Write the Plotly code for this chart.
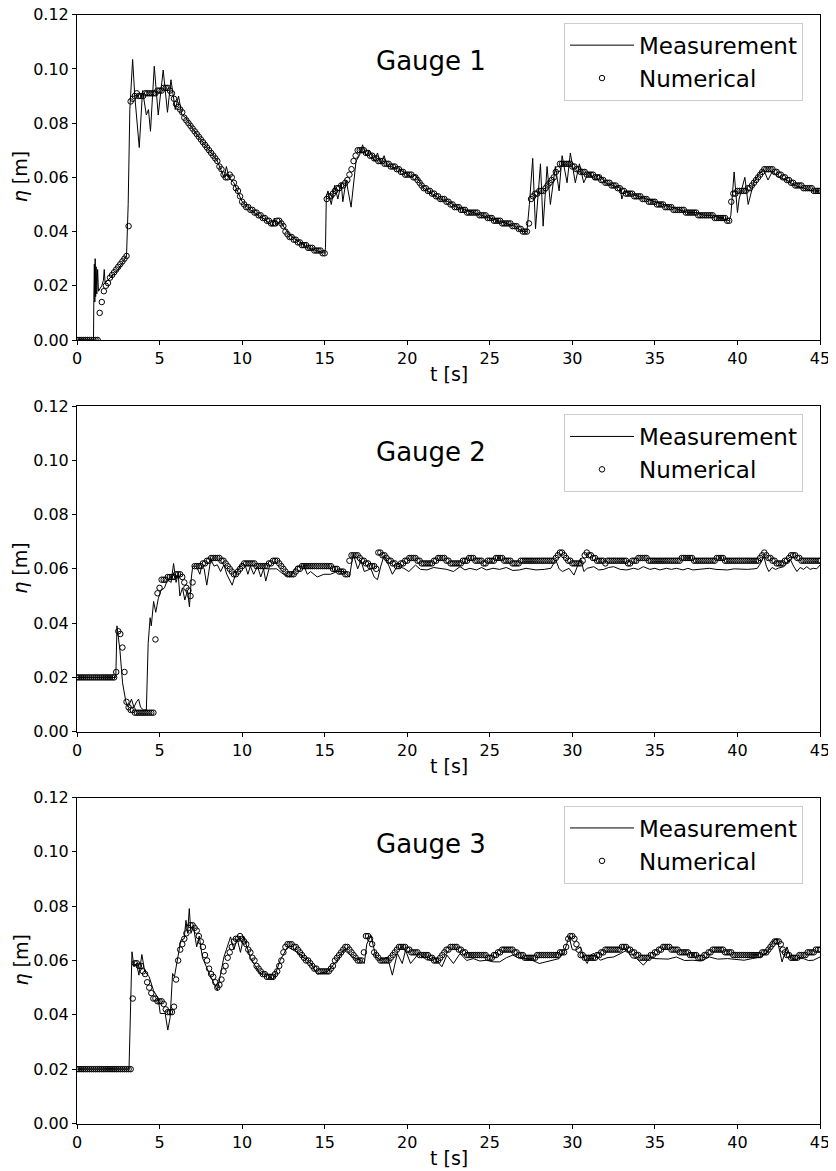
import plotly.graph_objects as go

# ---------------- data ----------------
# Numerical results, sampled every 0.125 s from 0 to 45 s (one row = 2 s)
num_step = 0.125

g1_num = [
    0.000, 0.000, 0.000, 0.000, 0.000, 0.000, 0.000, 0.000, 0.000, 0.000, 0.000, 0.010, 0.014, 0.018, 0.020, 0.021,
    0.023, 0.024, 0.025, 0.026, 0.027, 0.028, 0.029, 0.030, 0.031, 0.042, 0.088, 0.089, 0.090, 0.091, 0.090, 0.090,
    0.090, 0.091, 0.091, 0.091, 0.091, 0.091, 0.091, 0.092, 0.092, 0.092, 0.093, 0.093, 0.093, 0.092, 0.091, 0.089,
    0.087, 0.086, 0.085, 0.084, 0.082, 0.081, 0.080, 0.079, 0.078, 0.077, 0.076, 0.075, 0.074, 0.073, 0.072, 0.071,
    0.070, 0.069, 0.068, 0.067, 0.066, 0.064, 0.063, 0.061, 0.060, 0.060, 0.061, 0.060, 0.058, 0.056, 0.055, 0.053,
    0.051, 0.050, 0.049, 0.049, 0.048, 0.048, 0.047, 0.047, 0.046, 0.046, 0.045, 0.045, 0.044, 0.044, 0.043, 0.043,
    0.043, 0.044, 0.044, 0.043, 0.042, 0.040, 0.039, 0.038, 0.038, 0.037, 0.037, 0.036, 0.036, 0.035, 0.035, 0.035,
    0.034, 0.034, 0.034, 0.033, 0.033, 0.033, 0.033, 0.032, 0.032, 0.052, 0.053, 0.053, 0.054, 0.055, 0.056, 0.056,
    0.057, 0.057, 0.058, 0.059, 0.061, 0.063, 0.066, 0.068, 0.070, 0.070, 0.070, 0.070, 0.069, 0.069, 0.068, 0.068,
    0.067, 0.067, 0.066, 0.066, 0.066, 0.065, 0.065, 0.065, 0.064, 0.064, 0.064, 0.063, 0.063, 0.062, 0.062, 0.061,
    0.061, 0.061, 0.061, 0.060, 0.060, 0.059, 0.058, 0.057, 0.056, 0.056, 0.055, 0.055, 0.054, 0.054, 0.053, 0.053,
    0.052, 0.052, 0.052, 0.051, 0.051, 0.050, 0.050, 0.049, 0.049, 0.049, 0.048, 0.048, 0.048, 0.047, 0.047, 0.047,
    0.047, 0.047, 0.047, 0.046, 0.046, 0.046, 0.046, 0.045, 0.045, 0.045, 0.044, 0.044, 0.044, 0.044, 0.043, 0.043,
    0.043, 0.043, 0.043, 0.042, 0.042, 0.042, 0.041, 0.041, 0.040, 0.040, 0.040, 0.043, 0.052, 0.053, 0.054, 0.054,
    0.055, 0.055, 0.055, 0.056, 0.057, 0.058, 0.059, 0.060, 0.062, 0.063, 0.065, 0.065, 0.065, 0.065, 0.065, 0.065,
    0.064, 0.064, 0.063, 0.063, 0.062, 0.062, 0.062, 0.061, 0.061, 0.061, 0.061, 0.060, 0.060, 0.060, 0.059, 0.059,
    0.058, 0.058, 0.058, 0.057, 0.057, 0.057, 0.056, 0.056, 0.055, 0.055, 0.054, 0.054, 0.054, 0.054, 0.053, 0.053,
    0.053, 0.053, 0.052, 0.052, 0.052, 0.051, 0.051, 0.051, 0.051, 0.050, 0.050, 0.050, 0.050, 0.049, 0.049, 0.049,
    0.049, 0.048, 0.048, 0.048, 0.048, 0.048, 0.048, 0.047, 0.047, 0.047, 0.047, 0.047, 0.047, 0.046, 0.046, 0.046,
    0.046, 0.046, 0.046, 0.046, 0.046, 0.045, 0.045, 0.045, 0.045, 0.045, 0.045, 0.044, 0.044, 0.051, 0.054, 0.054,
    0.055, 0.055, 0.055, 0.055, 0.055, 0.056, 0.056, 0.057, 0.058, 0.059, 0.060, 0.061, 0.062, 0.063, 0.063, 0.063,
    0.063, 0.063, 0.062, 0.062, 0.061, 0.061, 0.060, 0.060, 0.059, 0.059, 0.058, 0.058, 0.057, 0.057, 0.057, 0.057,
    0.056, 0.056, 0.056, 0.056, 0.056, 0.055, 0.055, 0.055, 0.055,
]

g2_num = [
    0.020, 0.020, 0.020, 0.020, 0.020, 0.020, 0.020, 0.020, 0.020, 0.020, 0.020, 0.020, 0.020, 0.020, 0.020, 0.020,
    0.020, 0.020, 0.020, 0.022, 0.037, 0.036, 0.031, 0.022, 0.011, 0.009, 0.008, 0.008, 0.007, 0.007, 0.007, 0.007,
    0.007, 0.007, 0.007, 0.007, 0.007, 0.007, 0.034, 0.051, 0.053, 0.056, 0.056, 0.056, 0.057, 0.057, 0.057, 0.057,
    0.058, 0.058, 0.058, 0.057, 0.055, 0.053, 0.052, 0.050, 0.055, 0.061, 0.061, 0.061, 0.061, 0.062, 0.062, 0.063,
    0.063, 0.064, 0.064, 0.064, 0.064, 0.064, 0.063, 0.063, 0.062, 0.061, 0.060, 0.059, 0.058, 0.058, 0.059, 0.060,
    0.061, 0.062, 0.062, 0.062, 0.062, 0.062, 0.062, 0.061, 0.061, 0.061, 0.061, 0.061, 0.061, 0.062, 0.062, 0.063,
    0.063, 0.063, 0.062, 0.061, 0.060, 0.059, 0.058, 0.058, 0.058, 0.058, 0.059, 0.060, 0.060, 0.061, 0.061, 0.061,
    0.061, 0.061, 0.061, 0.061, 0.061, 0.061, 0.061, 0.061, 0.061, 0.061, 0.061, 0.061, 0.060, 0.060, 0.060, 0.059,
    0.059, 0.059, 0.058, 0.058, 0.063, 0.065, 0.065, 0.065, 0.065, 0.064, 0.063, 0.063, 0.062, 0.062, 0.061, 0.061,
    0.061, 0.060, 0.066, 0.066, 0.065, 0.065, 0.064, 0.063, 0.063, 0.062, 0.062, 0.061, 0.061, 0.062, 0.062, 0.063,
    0.063, 0.064, 0.064, 0.064, 0.064, 0.063, 0.063, 0.062, 0.062, 0.062, 0.062, 0.062, 0.062, 0.063, 0.063, 0.064,
    0.064, 0.064, 0.064, 0.063, 0.063, 0.062, 0.062, 0.062, 0.062, 0.062, 0.062, 0.063, 0.063, 0.063, 0.064, 0.064,
    0.064, 0.063, 0.063, 0.063, 0.063, 0.062, 0.062, 0.063, 0.063, 0.063, 0.063, 0.064, 0.064, 0.064, 0.064, 0.063,
    0.063, 0.063, 0.063, 0.062, 0.062, 0.062, 0.062, 0.063, 0.063, 0.063, 0.063, 0.063, 0.063, 0.063, 0.063, 0.063,
    0.063, 0.063, 0.063, 0.063, 0.063, 0.063, 0.063, 0.063, 0.064, 0.065, 0.066, 0.066, 0.065, 0.064, 0.063, 0.063,
    0.062, 0.062, 0.062, 0.062, 0.062, 0.063, 0.065, 0.066, 0.065, 0.065, 0.064, 0.064, 0.063, 0.063, 0.063, 0.063,
    0.062, 0.063, 0.063, 0.063, 0.063, 0.063, 0.063, 0.063, 0.063, 0.063, 0.063, 0.062, 0.062, 0.063, 0.063, 0.063,
    0.064, 0.064, 0.064, 0.064, 0.064, 0.063, 0.063, 0.063, 0.063, 0.063, 0.063, 0.063, 0.063, 0.063, 0.063, 0.063,
    0.063, 0.063, 0.063, 0.063, 0.063, 0.064, 0.064, 0.064, 0.064, 0.064, 0.064, 0.063, 0.063, 0.063, 0.063, 0.063,
    0.063, 0.063, 0.063, 0.063, 0.063, 0.063, 0.064, 0.064, 0.064, 0.064, 0.063, 0.063, 0.063, 0.063, 0.063, 0.063,
    0.063, 0.063, 0.063, 0.063, 0.063, 0.063, 0.063, 0.063, 0.063, 0.063, 0.063, 0.064, 0.065, 0.066, 0.065, 0.064,
    0.064, 0.063, 0.063, 0.062, 0.062, 0.062, 0.062, 0.063, 0.063, 0.064, 0.065, 0.065, 0.065, 0.064, 0.064, 0.063,
    0.063, 0.063, 0.063, 0.063, 0.063, 0.063, 0.063, 0.063, 0.063,
]

g3_num = [
    0.020, 0.020, 0.020, 0.020, 0.020, 0.020, 0.020, 0.020, 0.020, 0.020, 0.020, 0.020, 0.020, 0.020, 0.020, 0.020,
    0.020, 0.020, 0.020, 0.020, 0.020, 0.020, 0.020, 0.020, 0.020, 0.020, 0.020, 0.046, 0.059, 0.059, 0.058, 0.058,
    0.056, 0.055, 0.052, 0.050, 0.048, 0.046, 0.046, 0.045, 0.045, 0.045, 0.044, 0.042, 0.041, 0.041, 0.041, 0.043,
    0.053, 0.060, 0.064, 0.066, 0.068, 0.070, 0.072, 0.073, 0.073, 0.072, 0.071, 0.069, 0.067, 0.065, 0.062, 0.060,
    0.057, 0.055, 0.054, 0.052, 0.050, 0.051, 0.053, 0.056, 0.058, 0.061, 0.063, 0.065, 0.067, 0.068, 0.068, 0.069,
    0.068, 0.067, 0.066, 0.064, 0.063, 0.061, 0.060, 0.058, 0.057, 0.056, 0.055, 0.055, 0.054, 0.054, 0.054, 0.054,
    0.055, 0.056, 0.058, 0.060, 0.063, 0.065, 0.066, 0.066, 0.066, 0.065, 0.065, 0.064, 0.063, 0.062, 0.061, 0.060,
    0.060, 0.059, 0.058, 0.057, 0.057, 0.056, 0.056, 0.056, 0.056, 0.056, 0.056, 0.057, 0.058, 0.060, 0.061, 0.062,
    0.063, 0.064, 0.065, 0.065, 0.064, 0.063, 0.062, 0.061, 0.060, 0.060, 0.060, 0.063, 0.069, 0.069, 0.068, 0.066,
    0.063, 0.062, 0.061, 0.060, 0.060, 0.060, 0.060, 0.060, 0.061, 0.062, 0.063, 0.064, 0.065, 0.065, 0.065, 0.065,
    0.064, 0.064, 0.063, 0.063, 0.063, 0.063, 0.062, 0.062, 0.062, 0.062, 0.062, 0.061, 0.061, 0.060, 0.060, 0.060,
    0.061, 0.062, 0.063, 0.064, 0.064, 0.065, 0.065, 0.065, 0.065, 0.064, 0.064, 0.063, 0.063, 0.062, 0.062, 0.062,
    0.062, 0.062, 0.062, 0.062, 0.062, 0.062, 0.062, 0.061, 0.061, 0.061, 0.062, 0.062, 0.063, 0.063, 0.064, 0.064,
    0.064, 0.064, 0.064, 0.064, 0.063, 0.063, 0.062, 0.062, 0.062, 0.061, 0.061, 0.061, 0.061, 0.061, 0.061, 0.062,
    0.062, 0.062, 0.062, 0.062, 0.062, 0.062, 0.062, 0.062, 0.062, 0.062, 0.063, 0.063, 0.063, 0.065, 0.068, 0.069,
    0.069, 0.068, 0.066, 0.064, 0.062, 0.062, 0.061, 0.061, 0.061, 0.061, 0.061, 0.061, 0.062, 0.062, 0.063, 0.063,
    0.064, 0.064, 0.064, 0.064, 0.064, 0.064, 0.064, 0.064, 0.065, 0.065, 0.065, 0.064, 0.064, 0.063, 0.063, 0.062,
    0.062, 0.061, 0.061, 0.061, 0.061, 0.061, 0.062, 0.062, 0.063, 0.063, 0.064, 0.064, 0.065, 0.065, 0.065, 0.065,
    0.064, 0.064, 0.064, 0.064, 0.063, 0.063, 0.063, 0.063, 0.063, 0.062, 0.062, 0.062, 0.062, 0.061, 0.061, 0.061,
    0.062, 0.062, 0.063, 0.063, 0.064, 0.064, 0.064, 0.064, 0.064, 0.064, 0.063, 0.063, 0.063, 0.063, 0.062, 0.062,
    0.062, 0.062, 0.062, 0.062, 0.062, 0.062, 0.062, 0.062, 0.062, 0.062, 0.062, 0.062, 0.063, 0.063, 0.063, 0.064,
    0.065, 0.066, 0.067, 0.067, 0.067, 0.066, 0.064, 0.063, 0.062, 0.062, 0.061, 0.061, 0.061, 0.061, 0.062, 0.062,
    0.062, 0.062, 0.063, 0.063, 0.063, 0.063, 0.064, 0.064, 0.064,
]

# Measurements: (t [s], eta [m])
g1_meas = [(0, 0.0), (1.0, 0.0), (1.02, 0.015), (1.05, 0.028), (1.08, 0.014), (1.1, 0.030), (1.13, 0.016), (1.16, 0.027),
           (1.2, 0.017), (1.25, 0.026), (1.3, 0.018), (1.4, 0.019), (1.5, 0.020), (1.6, 0.022), (1.65, 0.026), (1.7, 0.021),
           (2.0, 0.023), (2.5, 0.026), (2.9, 0.030), (3.0, 0.031), (3.1, 0.050), (3.2, 0.085), (3.37, 0.1035), (3.5, 0.090),
           (3.77, 0.071), (3.97, 0.092), (4.2, 0.083), (4.33, 0.085), (4.45, 0.077), (4.68, 0.101), (4.92, 0.083), (5.22, 0.0996),
           (5.48, 0.084), (5.69, 0.096), (5.95, 0.085), (6.15, 0.090), (6.35, 0.083), (6.6, 0.082), (7.0, 0.078), (7.5, 0.074),
           (8.0, 0.070), (8.5, 0.066), (8.9, 0.060), (9.05, 0.064), (9.2, 0.060), (9.5, 0.058), (10.0, 0.051), (10.5, 0.048),
           (11.0, 0.046), (11.5, 0.044), (11.8, 0.042), (11.95, 0.045), (12.1, 0.042), (12.3, 0.044), (12.6, 0.041), (13.0, 0.038),
           (13.5, 0.036), (14.0, 0.034), (14.5, 0.033), (15.0, 0.032), (15.05, 0.034), (15.1, 0.053), (15.2, 0.055), (15.4, 0.050),
           (15.6, 0.057), (15.8, 0.052), (16.0, 0.058), (16.1, 0.051), (16.3, 0.059), (16.6, 0.049), (16.9, 0.066), (17.1, 0.068),
           (17.3, 0.072), (17.5, 0.068), (17.7, 0.070), (18.0, 0.066), (18.2, 0.069), (18.4, 0.065), (18.6, 0.068), (18.8, 0.064),
           (19.0, 0.064), (19.5, 0.063), (20.0, 0.061), (20.3, 0.060), (20.5, 0.061), (21.0, 0.056), (21.5, 0.054), (22.0, 0.052),
           (22.5, 0.051), (23.0, 0.049), (23.5, 0.048), (24.0, 0.047), (24.5, 0.046), (25.0, 0.045), (25.5, 0.044), (26.0, 0.043),
           (26.5, 0.042), (27.0, 0.040), (27.25, 0.040), (27.4, 0.050), (27.6, 0.067), (27.77, 0.041), (28.07, 0.065), (28.23, 0.042),
           (28.47, 0.064), (28.67, 0.050), (28.97, 0.064), (29.2, 0.055), (29.38, 0.068), (29.68, 0.058), (29.88, 0.069), (30.18, 0.058),
           (30.43, 0.065), (30.69, 0.058), (31.0, 0.062), (31.3, 0.059), (31.6, 0.061), (32.0, 0.058), (32.5, 0.057), (32.9, 0.056),
           (33.0, 0.052), (33.15, 0.055), (33.5, 0.054), (34.0, 0.053), (34.5, 0.052), (35.0, 0.051), (35.5, 0.050), (36.0, 0.049),
           (36.5, 0.048), (37.0, 0.047), (37.5, 0.047), (38.0, 0.046), (38.5, 0.046), (39.0, 0.045), (39.5, 0.044), (39.6, 0.046),
           (39.8, 0.062), (40.0, 0.047), (40.1, 0.052), (40.45, 0.060), (40.65, 0.050), (40.98, 0.058), (41.28, 0.061), (41.58, 0.063),
           (41.85, 0.059), (42.1, 0.062), (42.5, 0.060), (43.0, 0.059), (43.5, 0.057), (44.0, 0.056), (44.5, 0.055), (45.0, 0.055)]

g2_meas = [(0, 0.020), (2.35, 0.020), (2.42, 0.039), (2.5, 0.035), (2.6, 0.030), (2.76, 0.018), (2.96, 0.011), (3.1, 0.009),
           (3.3, 0.012), (3.45, 0.009), (3.6, 0.011), (3.73, 0.012), (3.85, 0.009), (4.03, 0.008), (4.2, 0.008), (4.31, 0.0325),
           (4.43, 0.042), (4.5, 0.039), (4.64, 0.048), (4.77, 0.044), (4.92, 0.049), (5.08, 0.052), (5.3, 0.053), (5.48, 0.056),
           (5.7, 0.055), (5.85, 0.062), (6.0, 0.055), (6.13, 0.058), (6.23, 0.050), (6.39, 0.053), (6.53, 0.0485), (6.69, 0.052),
           (6.81, 0.046), (6.93, 0.057), (7.01, 0.061), (7.2, 0.061), (7.3, 0.060), (7.44, 0.058), (7.55, 0.061), (7.7, 0.060),
           (7.86, 0.054), (8.1, 0.0635), (8.3, 0.061), (8.5, 0.0615), (8.7, 0.059), (8.9, 0.0615), (9.07, 0.058), (9.4, 0.054),
           (9.6, 0.058), (10.0, 0.062), (10.2, 0.061), (10.35, 0.058), (10.5, 0.061), (10.7, 0.058), (10.93, 0.061), (11.13, 0.057),
           (11.3, 0.060), (11.43, 0.0555), (11.63, 0.060), (12.1, 0.060), (12.5, 0.058), (12.9, 0.057), (13.3, 0.061), (13.75, 0.061),
           (13.95, 0.058), (14.15, 0.059), (14.55, 0.057), (14.95, 0.058), (15.35, 0.058), (15.75, 0.059), (16.15, 0.059), (16.5, 0.057),
           (16.73, 0.0655), (17.0, 0.060), (17.2, 0.063), (17.4, 0.059), (17.8, 0.060), (18.0, 0.057), (18.2, 0.056), (18.4, 0.061),
           (18.6, 0.065), (18.9, 0.061), (19.1, 0.058), (19.4, 0.061), (19.8, 0.0602), (20.1, 0.059), (20.5, 0.0614), (20.8, 0.0598),
           (21.2, 0.0596), (21.6, 0.0605), (22.0, 0.0602), (22.4, 0.0598), (22.8, 0.059), (23.2, 0.0608), (23.5, 0.0596), (23.8, 0.0602),
           (24.2, 0.0596), (24.5, 0.0605), (24.8, 0.0596), (25.2, 0.0602), (25.6, 0.0598), (26.0, 0.0605), (26.4, 0.0594), (26.8, 0.0596),
           (27.2, 0.0602), (27.8, 0.0596), (28.3, 0.0598), (28.7, 0.0602), (29.0, 0.0633), (29.2, 0.060), (29.4, 0.059), (29.8, 0.0602),
           (30.1, 0.0577), (30.3, 0.061), (30.5, 0.0639), (30.7, 0.059), (30.9, 0.0602), (31.3, 0.0608), (31.6, 0.0596), (31.9, 0.0598),
           (32.2, 0.0605), (32.5, 0.0608), (32.9, 0.0598), (33.3, 0.0596), (33.7, 0.0602), (34.0, 0.0598), (34.3, 0.0608), (34.7, 0.0598),
           (35.0, 0.0602), (35.3, 0.0596), (35.7, 0.0602), (36.0, 0.0598), (36.3, 0.0602), (36.7, 0.0596), (37.0, 0.0602), (37.3, 0.0596),
           (37.7, 0.0598), (38.0, 0.0602), (38.3, 0.0602), (38.7, 0.0598), (39.0, 0.0598), (39.4, 0.0596), (39.8, 0.060), (40.2, 0.0598),
           (40.6, 0.0598), (41.0, 0.060), (41.2, 0.0602), (41.4, 0.062), (41.6, 0.0645), (41.75, 0.061), (41.9, 0.059), (42.1, 0.0605),
           (42.3, 0.0598), (42.5, 0.0603), (42.8, 0.0608), (43.0, 0.062), (43.2, 0.0635), (43.4, 0.061), (43.6, 0.059), (43.8, 0.0605),
           (44.0, 0.0598), (44.2, 0.0608), (44.4, 0.0598), (44.6, 0.0602), (44.8, 0.060), (45.0, 0.0614)]

g3_meas = [(0, 0.020), (3.15, 0.020), (3.33, 0.0632), (3.45, 0.0577), (3.6, 0.059), (3.75, 0.0546), (3.93, 0.0622), (4.1, 0.056),
           (4.37, 0.054), (4.63, 0.049), (4.92, 0.046), (5.04, 0.0405), (5.34, 0.0405), (5.5, 0.0344), (5.64, 0.039), (5.79, 0.0552),
           (5.9, 0.054), (6.13, 0.0625), (6.29, 0.0675), (6.49, 0.068), (6.6, 0.0748), (6.7, 0.070), (6.8, 0.0791), (6.9, 0.070),
           (7.05, 0.0725), (7.25, 0.065), (7.4, 0.069), (7.6, 0.061), (7.8, 0.058), (8.1, 0.054), (8.5, 0.049), (8.9, 0.0613),
           (9.1, 0.065), (9.3, 0.0687), (9.5, 0.064), (9.7, 0.068), (9.9, 0.063), (10.1, 0.0687), (10.5, 0.061), (11.1, 0.055),
           (11.5, 0.055), (11.9, 0.053), (12.3, 0.060), (12.75, 0.065), (13.05, 0.064), (13.35, 0.063), (13.75, 0.061), (14.15, 0.059),
           (14.55, 0.055), (15.2, 0.056), (15.75, 0.060), (16.15, 0.064), (16.75, 0.061), (17.2, 0.060), (17.4, 0.0589), (17.55, 0.066),
           (17.8, 0.0693), (18.1, 0.0613), (18.4, 0.060), (18.8, 0.0613), (19.1, 0.0546), (19.4, 0.0626), (19.7, 0.0589), (19.9, 0.0638),
           (20.2, 0.0589), (20.7, 0.0626), (21.2, 0.0601), (21.6, 0.0613), (22.1, 0.0577), (22.4, 0.062), (22.8, 0.0589), (23.2, 0.0626),
           (23.6, 0.060), (24.0, 0.0607), (24.4, 0.0598), (24.8, 0.0601), (25.2, 0.0595), (25.6, 0.0595), (26.0, 0.061), (26.4, 0.062),
           (26.8, 0.0607), (27.2, 0.0607), (27.6, 0.060), (28.0, 0.0589), (28.4, 0.0595), (28.8, 0.0601), (29.2, 0.0607), (29.5, 0.063),
           (29.8, 0.0687), (30.0, 0.064), (30.2, 0.0638), (30.5, 0.065), (30.7, 0.061), (30.9, 0.0589), (31.1, 0.062), (31.3, 0.0626),
           (31.7, 0.0601), (32.1, 0.061), (32.5, 0.0613), (32.9, 0.0625), (33.3, 0.0638), (33.6, 0.061), (33.9, 0.0607), (34.3, 0.0583),
           (34.7, 0.061), (35.0, 0.0607), (35.3, 0.0607), (35.8, 0.0605), (36.3, 0.0613), (36.8, 0.060), (37.3, 0.0601), (37.8, 0.0598),
           (38.3, 0.0613), (38.8, 0.0605), (39.4, 0.0607), (39.9, 0.0603), (40.4, 0.0601), (40.9, 0.0607), (41.4, 0.0613), (41.8, 0.063),
           (42.2, 0.0675), (42.4, 0.068), (42.7, 0.0595), (43.0, 0.065), (43.2, 0.0615), (43.4, 0.0601), (43.7, 0.0607), (44.0, 0.0607),
           (44.3, 0.060), (44.6, 0.0601), (45.0, 0.0613)]

gauge_names = ["Gauge 1", "Gauge 2", "Gauge 3"]
x_ticks = [0, 5, 10, 15, 20, 25, 30, 35, 40, 45]
y_ticks = [0.00, 0.02, 0.04, 0.06, 0.08, 0.10, 0.12]

# ---------------- figure ----------------
# The page body has an 8 px margin, so the figure is placed 8 px in from the
# window corner; layout positions below are given in window pixels.
OFF = 8
W, H = 836 - OFF, 1171 - OFF
FONT = "DejaVu Sans"


def px_x(x):
    return (x - OFF) / W


def px_y(y):
    return 1 - (y - OFF) / H


x_dom = [px_x(77), px_x(820)]
# window-pixel top/bottom of each panel
panels_px = [(14.7, 340.0), (406.0, 731.7), (797.5, 1123.5)]

fig = go.Figure()
annotations = []
num_series = [g1_num, g2_num, g3_num]
meas_series = [g1_meas, g2_meas, g3_meas]

for i in range(3):
    ax = "" if i == 0 else str(i + 1)
    leg = "legend" if i == 0 else "legend" + str(i + 1)
    mt = [p[0] for p in meas_series[i]]
    mv = [p[1] for p in meas_series[i]]
    nv = num_series[i]
    nt = [k * num_step for k in range(len(nv))]
    fig.add_trace(go.Scatter(
        x=mt, y=mv, mode="lines", name="Measurement",
        line=dict(color="black", width=1), xaxis="x" + ax, yaxis="y" + ax, legend=leg))
    fig.add_trace(go.Scatter(
        x=nt, y=nv, mode="markers", name="Numerical",
        marker=dict(symbol="circle-open", size=5.5, color="black", line=dict(width=1)),
        xaxis="x" + ax, yaxis="y" + ax, legend=leg))

    top, bot = panels_px[i]
    y_dom = [px_y(bot), px_y(top)]
    axis_common = dict(
        showline=True, linecolor="black", linewidth=1, mirror=True,
        showgrid=False, zeroline=False, ticks="outside", ticklen=4,
        tickcolor="black", tickwidth=1, automargin=False,
        ticklabeloverflow="allow",
        tickfont=dict(family=FONT, size=16, color="black"))
    fig.layout["xaxis" + ax] = dict(
        domain=x_dom, range=[0, 45], tickvals=x_ticks, anchor="y" + ax, **axis_common)
    fig.layout["yaxis" + ax] = dict(
        domain=y_dom, range=[0, 0.12], tickvals=y_ticks, tickformat=".2f",
        anchor="x" + ax, **axis_common)

    fig.layout[leg] = dict(
        x=px_x(564), y=px_y(top + 8), xanchor="left", yanchor="top",
        bgcolor="rgba(255,255,255,0.8)", bordercolor="#cccccc", borderwidth=1,
        font=dict(family=FONT, size=23, color="black"), itemwidth=64,
        tracegroupgap=0)

    annotations.append(dict(
        x=18.0, y=0.103, xref="x" + ax, yref="y" + ax, text=gauge_names[i],
        showarrow=False, xanchor="left", yanchor="middle",
        font=dict(family=FONT, size=26, color="black")))
    annotations.append(dict(
        x=0.5 * (x_dom[0] + x_dom[1]), y=px_y(bot + 34), xref="paper", yref="paper",
        text="t [s]", showarrow=False, xanchor="center", yanchor="middle",
        font=dict(family=FONT, size=19, color="black")))
    annotations.append(dict(
        x=px_x(20), y=px_y(0.5 * (top + bot)), xref="paper", yref="paper",
        text="<i>η</i> [m]", textangle=-90, showarrow=False,
        xanchor="center", yanchor="middle",
        font=dict(family=FONT, size=19, color="black")))

fig.update_layout(
    width=W, height=H, margin=dict(l=0, r=0, t=0, b=0),
    paper_bgcolor="white", plot_bgcolor="white",
    annotations=annotations, showlegend=True,
    font=dict(family=FONT, color="black"))

fig.write_html("out.html")
